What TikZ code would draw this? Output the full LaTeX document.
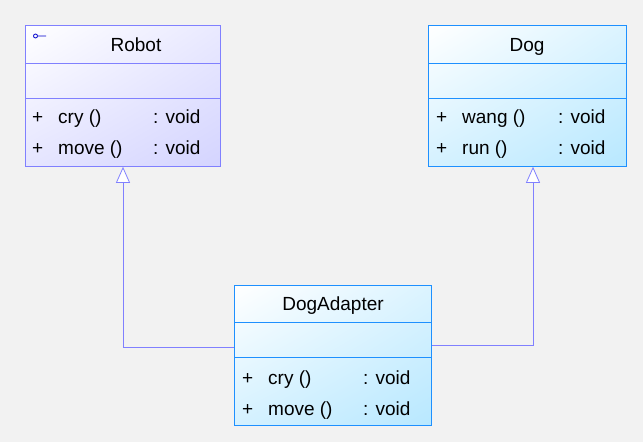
\documentclass[tikz,border=0pt]{standalone}
\usepackage{fontspec}
\setmainfont{Liberation Sans}
\usetikzlibrary{arrows.meta,shadings}
\definecolor{bg}{HTML}{F2F2F2}
\definecolor{rb}{HTML}{8080FF}
\definecolor{rf}{HTML}{D4D4FF}
\definecolor{db}{HTML}{1E90FF}
\definecolor{df}{HTML}{B8E8FF}
\tikzset{
  box/.style={draw=#1, line width=0.8pt, rectangle, anchor=north west, inner sep=0pt},
  txt/.style={font=\fontsize{19}{19}\selectfont, anchor=base west, inner sep=0pt},
  ttl/.style={font=\fontsize{19}{19}\selectfont, anchor=base, inner sep=0pt},
  inh/.style={draw=rb, line width=0.8pt, -{Triangle[open, width=14pt, length=16pt, fill=white]}}
}
\begin{document}
\begin{tikzpicture}[x=1pt,y=-1pt]
\fill[bg] (0,0) rectangle (643,442);
\useasboundingbox (0,0) rectangle (643,442);
% Robot
\node[box=rb, minimum width=195pt, minimum height=141pt, upper left=white, upper right=rf!50, lower left=rf!60, lower right=rf] (robot) at (25,25) {};
\draw[rb, line width=0.8pt] (25,63) -- (220,63) (25,98) -- (220,98);
\node[ttl] (robotT) at (136,51) {Robot};
\draw[blue!80!black, line width=0.8pt] (35.5,36) circle (2pt) (37.5,36) -- (46,36);
\node[txt] (r1) at (32,123) {+};
\node[txt] (r2) at (58,123) {cry ()};
\node[txt] (r3) at (153,123) {: void};
\node[txt] (r4) at (32,154) {+};
\node[txt] (r5) at (58,154) {move ()};
\node[txt] (r6) at (153,154) {: void};
% Dog
\node[box=db, minimum width=198pt, minimum height=141pt, upper left=white, upper right=df!50, lower left=df!60, lower right=df] (dog) at (428,25) {};
\draw[db, line width=0.8pt] (428,63) -- (626,63) (428,98) -- (626,98);
\node[ttl] (dogT) at (527,51) {Dog};
\node[txt] (d1) at (436,123) {+};
\node[txt] (d2) at (462,123) {wang ()};
\node[txt] (d3) at (558,123) {: void};
\node[txt] (d4) at (436,154) {+};
\node[txt] (d5) at (462,154) {run ()};
\node[txt] (d6) at (558,154) {: void};
% DogAdapter
\node[box=db, minimum width=197pt, minimum height=140pt, upper left=white, upper right=df!50, lower left=df!60, lower right=df] (ad) at (234,285) {};
\draw[db, line width=0.8pt] (234,322) -- (431,322) (234,357) -- (431,357);
\node[ttl] (adT) at (333,310) {DogAdapter};
\node[txt] (a1) at (242,384) {+};
\node[txt] (a2) at (268,384) {cry ()};
\node[txt] (a3) at (363,384) {: void};
\node[txt] (a4) at (242,415) {+};
\node[txt] (a5) at (268,415) {move ()};
\node[txt] (a6) at (363,415) {: void};
% connectors
\coordinate (lc) at (123,347);
\coordinate (rc) at (533,345);
\draw[inh] (ad.west |- lc) -- (lc) -- (lc |- robot.south);
\draw[inh] (ad.east |- rc) -- (rc) -- (rc |- dog.south);
\end{tikzpicture}
\end{document}
